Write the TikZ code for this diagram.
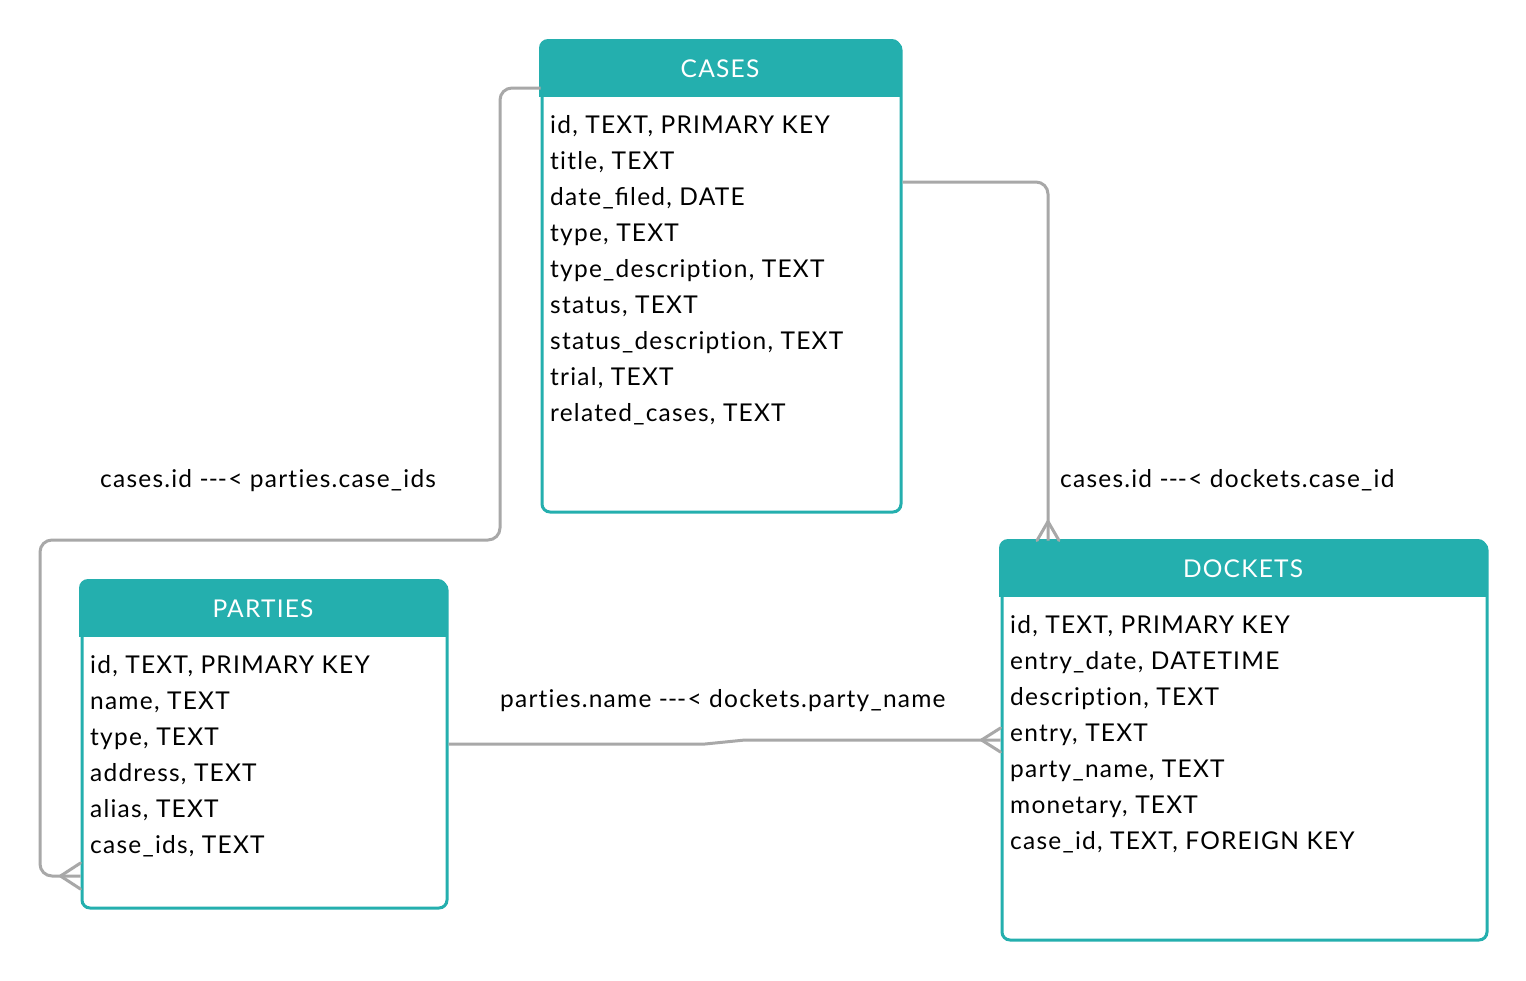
\documentclass[tikz,border=0pt]{standalone}
\usepackage{fontspec}
\setmainfont{Lato}[Ligatures=NoCommon, LetterSpace=5]
\usetikzlibrary{calc}
\definecolor{tealc}{HTML}{24AFAE}
\definecolor{lgray}{HTML}{A8A8A8}
\newcommand{\tdash}{-\kern0pt-\kern0pt-}
\tikzset{
  tablebox/.style={draw=tealc, line width=3pt, fill=white, rounded corners=8pt, inner sep=0pt, anchor=north west},
  hdrtext/.style={text=white, font=\fontsize{24.5}{28}\selectfont, anchor=base, inner sep=0pt},
  fieldtext/.style={text=black, font=\fontsize{24.5}{28}\selectfont, anchor=base west, inner sep=0pt},
  lbl/.style={text=black, font=\fontsize{24.5}{28}\selectfont, anchor=base west, inner sep=0pt},
  conn/.style={draw=lgray, line width=3pt, rounded corners=12pt},
  foot/.style={draw=lgray, line width=3pt, line cap=round}
}
\begin{document}
\begin{tikzpicture}[x=1pt,y=-1pt]
\useasboundingbox (0,0) rectangle (1526,980);
\fill[white] (0,0) rectangle (1526,980);

% ---- boxes
\node[tablebox, minimum width=359pt, minimum height=470pt] (cases) at (540.5,40.5) {};
\node[tablebox, minimum width=365pt, minimum height=326pt] (parties) at (80.5,580.5) {};
\node[tablebox, minimum width=485pt, minimum height=398pt] (dockets) at (1000.5,540.5) {};

% headers
\begin{scope}
\clip[rounded corners=9pt] (539,39) rectangle (901,512);
\fill[tealc] (539,39) rectangle (901,97);
\end{scope}
\begin{scope}
\clip[rounded corners=9pt] (79,579) rectangle (447,908);
\fill[tealc] (79,579) rectangle (447,637);
\end{scope}
\begin{scope}
\clip[rounded corners=9pt] (999,539) rectangle (1487,940);
\fill[tealc] (999,539) rectangle (1487,597);
\end{scope}

\node[hdrtext] (casesT) at (720,77) {CASES};
\node[hdrtext] (partiesT) at (263,617) {PARTIES};
\node[hdrtext] (docketsT) at (1243,577) {DOCKETS};

% fields
\foreach \t [count=\i from 0] in {{id, TEXT, PRIMARY KEY},{title, TEXT},{date\_ﬁled, DATE},{type, TEXT},{type\_description, TEXT},{status, TEXT},{status\_description, TEXT},{trial, TEXT},{related\_cases, TEXT}}
  \node[fieldtext] (cf\i) at (550,133+36*\i) {\t};
\foreach \t [count=\i from 0] in {{id, TEXT, PRIMARY KEY},{name, TEXT},{type, TEXT},{address, TEXT},{alias, TEXT},{case\_ids, TEXT}}
  \node[fieldtext] (pf\i) at (90,673+36*\i) {\t};
\foreach \t [count=\i from 0] in {{id, TEXT, PRIMARY KEY},{entry\_date, DATETIME},{description, TEXT},{entry, TEXT},{party\_name, TEXT},{monetary, TEXT},{case\_id, TEXT, FOREIGN KEY}}
  \node[fieldtext] (df\i) at (1010,633+36*\i) {\t};

% ---- connectors
\coordinate (c1s) at ($(cases.north west)+(0,47.5)$);
\coordinate (c1e) at ($(parties.north west)+(0,295.5)$);
\coordinate (c1f) at ($(c1e)+(-20,0)$);
\draw[conn] (c1s) -- (500,88) -- (500,540) -- (40,540) -- (40,876) -- (c1e);
\draw[foot] (c1f) -- ($(c1e)+(0,-13)$);
\draw[foot] (c1f) -- ($(c1e)+(0,13)$);

\coordinate (c2s) at ($(cases.north east)+(0,141.5)$);
\coordinate (c2e) at ($(dockets.north west)+(47.5,0)$);
\coordinate (c2f) at ($(c2e)+(0,-19)$);
\draw[conn] (c2s) -- (1048,182) -- (c2e);
\draw[foot] (c2f) -- ($(c2e)+(-11,0)$);
\draw[foot] (c2f) -- ($(c2e)+(11,0)$);

\coordinate (c3s) at ($(parties.north east)+(0,163.5)$);
\coordinate (c3e) at ($(dockets.north west)+(0,199.5)$);
\coordinate (c3f) at ($(c3e)+(-19,0)$);
\draw[conn, rounded corners=0pt] (c3s) -- (705,744) -- (745,740) -- (c3e);
\draw[foot] (c3f) -- ($(c3e)+(0,-12)$);
\draw[foot] (c3f) -- ($(c3e)+(0,12)$);

% ---- labels
\node[lbl] (l1) at (100,487) {cases.id \tdash< parties.case\_ids};
\node[lbl] (l2) at (1060,487) {cases.id \tdash< dockets.case\_id};
\node[lbl] (l3) at (500,707) {parties.name \tdash< dockets.party\_name};
\end{tikzpicture}
\end{document}
